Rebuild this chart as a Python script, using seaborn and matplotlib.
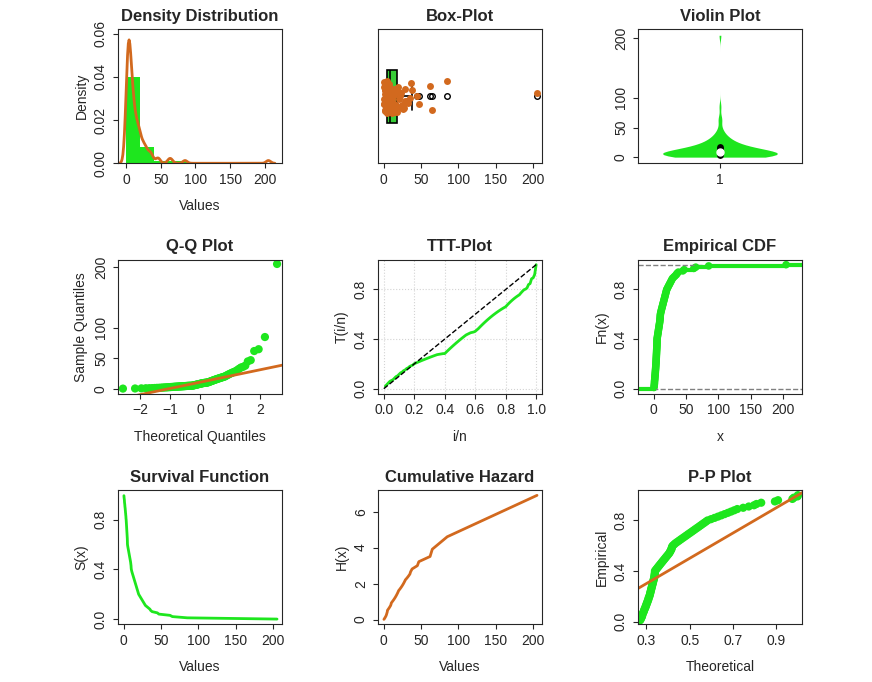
import numpy as np
import pandas as pd
import matplotlib
matplotlib.use("Agg")
import matplotlib.pyplot as plt
import seaborn as sns
from math import erf, sqrt
from statistics import NormalDist

sns.set_style("ticks")
plt.rcParams["font.family"] = ["Liberation Sans", "DejaVu Sans"]
plt.rcParams["axes.titleweight"] = "bold"
plt.rcParams["axes.titlesize"] = 12
plt.rcParams["xtick.labelsize"] = 10
plt.rcParams["ytick.labelsize"] = 10
plt.rcParams["axes.labelsize"] = 10

GREEN = "#1ee61e"
ORANGE = "#d2691e"

# sample (sorted, n = 100)
sample = [0.3, 0.5, 0.7, 0.9, 1.0, 1.1, 1.3, 1.5, 1.6, 1.8, 2.0, 2.1, 2.3, 2.4, 2.6,
          2.7, 2.9, 3.0, 3.1, 3.3, 3.4, 3.5, 3.6, 3.7, 3.8, 3.9, 4.0, 4.1, 4.2, 4.3,
          4.4, 4.5, 4.6, 4.7, 4.8, 4.85, 4.9, 4.95, 5.0, 5.0,
          5.3, 5.6, 5.9, 6.2, 6.5, 6.8, 7.1, 7.4, 7.7, 8.0, 8.3, 8.6, 8.9, 9.2, 9.4,
          9.6, 9.8, 9.9, 10.0, 10.2,
          10.6, 11.0, 11.5, 12.0, 12.5, 13.0, 13.5, 14.0, 14.5, 15.0, 15.5, 16.0, 16.5,
          17.0, 17.5, 18.0, 18.5, 19.0, 19.5, 20.0,
          21.0, 22.0, 23.0, 24.0, 25.0, 26.0, 27.0, 28.0, 29.0, 31.0, 33.0, 35.0,
          36.0, 38.0, 45.0, 47.0, 62.0, 65.0, 85.0, 205.0]

x = np.sort(np.array(sample))
n = len(x)
ecdf = np.arange(1, n + 1) / n

fig, axes = plt.subplots(3, 3, figsize=(8.72, 6.82), dpi=100)
plt.subplots_adjust(left=0.135, right=0.92, top=0.957, bottom=0.085, wspace=0.58, hspace=0.72)


def rstyle(ax):
    for s in ax.spines.values():
        s.set_visible(True)
        s.set_linewidth(0.8)
    ax.tick_params(axis="y", labelrotation=90)
    for lab in ax.get_yticklabels():
        lab.set_va("center")


LP = 9

# 1 density
ax = axes[0, 0]
sns.histplot(x=x, bins=np.arange(0, 220, 20), stat="density", color=GREEN, edgecolor="none",
             alpha=1, ax=ax)
sns.kdeplot(x=x, bw_method=0.13, color=ORANGE, lw=2, ax=ax, cut=3)
ax.set_xlim(-12, 225)
ax.set_ylim(0, 0.062)
ax.set_xticks([0, 50, 100, 150, 200])
ax.set_yticks([0, 0.02, 0.04, 0.06])
ax.set_title("Density Distribution")
ax.set_xlabel("Values", labelpad=LP)
ax.set_ylabel("Density")

# 2 box plot
ax = axes[0, 1]
sns.boxplot(x=x, orient="h", color=GREEN, width=0.8, linecolor="black", linewidth=1.2,
            flierprops=dict(marker="o", markerfacecolor="none", markeredgecolor="black", markersize=4),
            ax=ax)
sns.stripplot(x=x, orient="h", color=ORANGE, jitter=0.25, size=5, ax=ax)
ax.set_xlim(-8, 212)
ax.set_ylim(1.0, -1.0)
ax.set_yticks([])
ax.set_xticks([0, 50, 100, 150, 200])
ax.set_title("Box-Plot")

# 3 violin
ax = axes[0, 2]
sns.violinplot(y=x, color=GREEN, linewidth=0, inner=None, cut=0, bw_method=0.3, width=0.7,
               saturation=1, ax=ax)
ax.plot([0, 0], [np.percentile(x, 25), np.percentile(x, 75)], color="black", lw=5)
ax.plot([0], [np.median(x)], "o", color="white", ms=5)
ax.set_xlim(-0.5, 0.5)
ax.set_ylim(-10, 215)
ax.set_xticks([0])
ax.set_xticklabels(["1"])
ax.set_yticks([0, 50, 100, 200])
ax.set_title("Violin Plot")
ax.set_ylabel("")

# 4 QQ
ax = axes[1, 0]
nd = NormalDist()
p = (np.arange(1, n + 1) - 0.5) / n
theo = np.array([nd.inv_cdf(v) for v in p])
sns.scatterplot(x=theo, y=x, color=GREEN, s=35, edgecolor="none", ax=ax)
q1, q3 = np.percentile(x, [25, 75])
slope = (q3 - q1) / (nd.inv_cdf(0.75) - nd.inv_cdf(0.25))
inter = q1 - slope * nd.inv_cdf(0.25)
xl = np.array([-3, 3])
ax.plot(xl, inter + slope * xl, color=ORANGE, lw=2)
ax.set_xlim(-2.75, 2.75)
ax.set_ylim(-8, 212)
ax.set_xticks([-2, -1, 0, 1, 2])
ax.set_yticks([0, 50, 100, 200])
ax.set_title("Q-Q Plot")
ax.set_xlabel("Theoretical Quantiles", labelpad=LP)
ax.set_ylabel("Sample Quantiles")

# 5 TTT
ax = axes[1, 1]
cs = np.cumsum(x)
ttt = (cs + (n - np.arange(1, n + 1)) * x) / cs[-1]
u = np.arange(1, n + 1) / n
sns.lineplot(x=u, y=ttt, color=GREEN, lw=2, ax=ax)
ax.plot([0, 1], [0, 1], "k--", lw=1)
ax.grid(True, linestyle=":", color="lightgray")
ax.set_xlim(-0.04, 1.04)
ax.set_ylim(-0.04, 1.04)
ax.set_xticks([0, 0.2, 0.4, 0.6, 0.8, 1.0])
ax.set_xticklabels(["0.0", "0.2", "0.4", "0.6", "0.8", "1.0"])
ax.set_yticks([0, 0.4, 0.8])
ax.set_yticklabels(["0.0", "0.4", "0.8"])
ax.set_title("TTT-Plot")
ax.set_xlabel("i/n", labelpad=LP)
ax.set_ylabel("T(i/n)")

# 6 ECDF
ax = axes[1, 2]
ax.axhline(0, color="gray", ls="--", lw=1)
ax.axhline(1, color="gray", ls="--", lw=1)
sns.ecdfplot(x=x, color=GREEN, lw=3, ax=ax)
ax.plot([-40, x[0]], [0, 0], color=GREEN, lw=3)
ax.plot([x[-1], 250], [1, 1], color=GREEN, lw=3)
sns.scatterplot(x=x, y=ecdf, color=GREEN, s=30, edgecolor="none", ax=ax)
ax.set_xlim(-25, 230)
ax.set_ylim(-0.04, 1.04)
ax.set_xticks([0, 50, 100, 150, 200])
ax.set_yticks([0, 0.4, 0.8])
ax.set_yticklabels(["0.0", "0.4", "0.8"])
ax.set_title("Empirical CDF")
ax.set_xlabel("x", labelpad=LP)
ax.set_ylabel("Fn(x)")

# 7 survival
ax = axes[2, 0]
surv = 1 - ecdf
sns.lineplot(x=np.r_[x[0], x], y=np.r_[1.0, surv], color=GREEN, lw=2, ax=ax)
ax.set_xlim(-8, 212)
ax.set_ylim(-0.04, 1.04)
ax.set_xticks([0, 50, 100, 150, 200])
ax.set_yticks([0, 0.4, 0.8])
ax.set_yticklabels(["0.0", "0.4", "0.8"])
ax.set_title("Survival Function")
ax.set_xlabel("Values", labelpad=LP)
ax.set_ylabel("S(x)")

# 8 cumulative hazard
ax = axes[2, 1]
haz = -np.log(np.clip(surv, 0.001, None))
sns.lineplot(x=x, y=haz, color=ORANGE, lw=2, ax=ax)
ax.set_xlim(-8, 212)
ax.set_ylim(-0.25, 7.2)
ax.set_xticks([0, 50, 100, 150, 200])
ax.set_yticks([0, 2, 4, 6])
ax.set_title("Cumulative Hazard")
ax.set_xlabel("Values", labelpad=LP)
ax.set_ylabel("H(x)")

# 9 PP
ax = axes[2, 2]
mu, sd = x.mean(), x.std(ddof=1)
theo_pp = np.array([0.5 * (1 + erf((v - mu) / (sd * sqrt(2)))) for v in x])
sns.scatterplot(x=theo_pp, y=ecdf, color=GREEN, s=35, edgecolor="none", ax=ax)
ax.plot([0, 1.1], [0, 1.1], color=ORANGE, lw=2)
ax.set_xlim(0.26, 1.02)
ax.set_ylim(-0.02, 1.04)
ax.set_xticks([0.3, 0.5, 0.7, 0.9])
ax.set_yticks([0, 0.4, 0.8])
ax.set_yticklabels(["0.0", "0.4", "0.8"])
ax.set_title("P-P Plot")
ax.set_xlabel("Theoretical", labelpad=LP)
ax.set_ylabel("Empirical")

for a in axes.flat:
    rstyle(a)

fig.savefig("out.png", dpi=100)
